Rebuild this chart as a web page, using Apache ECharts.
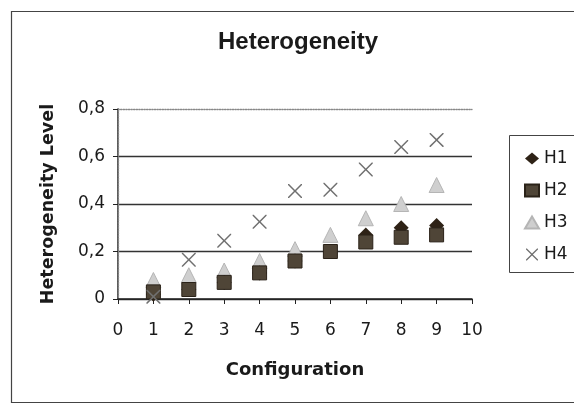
<!DOCTYPE html>
<html>
<head>
<meta charset="utf-8">
<style>html,body{margin:0;padding:0;background:#fff;}#c{width:574px;height:407px;}</style>
<script src="https://cdn.jsdelivr.net/npm/echarts@6/dist/echarts.min.js"></script>
</head>
<body>
<div id="c"></div>
<script>
var configurations = [1, 2, 3, 4, 5, 6, 7, 8, 9];
var h1 = [0.02, 0.04, 0.07, 0.11, 0.16, 0.20, 0.27, 0.30, 0.31];
var h2 = [0.03, 0.04, 0.07, 0.11, 0.16, 0.20, 0.24, 0.26, 0.27];
var h3 = [0.08, 0.10, 0.12, 0.16, 0.21, 0.27, 0.34, 0.40, 0.48];
var h4 = [0.01, 0.165, 0.245, 0.325, 0.455, 0.46, 0.545, 0.64, 0.67];
var seriesNames = ['H1', 'H2', 'H3', 'H4'];

function pairs(vals) { return configurations.map(function (c, i) { return [c, vals[i]]; }); }

var xPath = 'path://M0,0 L1.5,0 L10,8.5 L18.5,0 L20,0 L20,1.5 L11.5,10 L20,18.5 L20,20 L18.5,20 L10,11.5 L1.5,20 L0,20 L0,18.5 L8.5,10 L0,1.5 Z';

var chart = echarts.init(document.getElementById('c'), null, {renderer: 'canvas'});
var sans = 'DejaVu Sans, Verdana, sans-serif';
var arial = 'Liberation Sans, Arial, sans-serif';
chart.setOption({
  animation: false,
  backgroundColor: '#fff',
  textStyle: {fontFamily: sans},
  title: {
    text: 'Heterogeneity', left: 293, top: 25, textAlign: 'center',
    textStyle: {fontSize: 24, fontWeight: 'bold', color: '#1a1a1a', fontFamily: arial}
  },
  graphic: [
    {type: 'rect', shape: {x: 11.5, y: 11.5, width: 620, height: 391}, style: {fill: 'none', stroke: '#444', lineWidth: 1.2}, z: 0},
    {type: 'rect', shape: {x: 509.5, y: 135.5, width: 100, height: 137}, style: {fill: 'none', stroke: '#444', lineWidth: 1}, z: 0}
  ],
  legend: {
    orient: 'vertical', left: 519, top: 145, itemGap: 15, itemWidth: 14, itemHeight: 12,
    data: seriesNames,
    textStyle: {fontSize: 17, color: '#1a1a1a', fontFamily: sans}
  },
  grid: {left: 118, right: 102, top: 109, bottom: 108},
  xAxis: [{
    type: 'value', min: 0, max: 10, interval: 1,
    name: 'Configuration', nameLocation: 'middle', nameGap: 62,
    nameTextStyle: {fontSize: 18, fontWeight: 'bold', color: '#1a1a1a', fontFamily: sans},
    axisLine: {show: true, onZero: false, lineStyle: {color: '#222', width: 1.5}},
    axisTick: {show: true, inside: false, length: 5, lineStyle: {color: '#222'}},
    axisLabel: {fontSize: 17, color: '#1a1a1a', margin: 23, fontFamily: sans},
    splitLine: {show: false}
  }, {
    type: 'value', position: 'top', min: 0, max: 10, interval: 1,
    axisLine: {show: true, onZero: false, lineStyle: {color: '#888', width: 1.3, type: 'dotted'}},
    axisTick: {show: false}, axisLabel: {show: false}, splitLine: {show: false}
  }],
  yAxis: [{
    type: 'value', min: 0, max: 0.8, interval: 0.2,
    name: 'Heterogeneity Level', nameLocation: 'middle', nameGap: 61, nameRotate: 90,
    nameTextStyle: {fontSize: 17.5, fontWeight: 'bold', color: '#1a1a1a', fontFamily: sans},
    axisLine: {show: true, lineStyle: {color: '#222', width: 1.5}},
    axisTick: {show: true, inside: false, length: 5, lineStyle: {color: '#222'}},
    axisLabel: {fontSize: 17, color: '#1a1a1a', margin: 13, fontFamily: sans,
      formatter: function (v) { return v === 0 ? '0' : v.toFixed(1).replace('.', ','); }},
    splitLine: {show: true, lineStyle: {color: ['#333', '#333', '#333', '#333', 'rgba(0,0,0,0)'], width: 1.3}}
  }, {
    type: 'value', position: 'right', min: 0, max: 0.8, interval: 0.2,
    axisLine: {show: true, lineStyle: {color: '#888', width: 1.3, type: 'dotted'}},
    axisTick: {show: false}, axisLabel: {show: false}, splitLine: {show: false}
  }],
  series: [
    {name: 'H1', type: 'scatter', data: pairs(h1), symbol: 'diamond', symbolSize: 15, z: 3,
      itemStyle: {color: '#2e2216', opacity: 1}},
    {name: 'H2', type: 'scatter', data: pairs(h2), symbol: 'rect', symbolSize: 14, z: 4,
      itemStyle: {color: '#4f4537', borderColor: '#2a2218', borderWidth: 1, opacity: 1}},
    {name: 'H3', type: 'scatter', data: pairs(h3), symbol: 'triangle', symbolSize: 15, z: 2,
      itemStyle: {color: '#cfcfcf', borderColor: '#b5b5b5', borderWidth: 1, opacity: 1}},
    {name: 'H4', type: 'scatter', data: pairs(h4), symbol: xPath, symbolSize: 14, z: 5,
      itemStyle: {color: '#707070', opacity: 1}}
  ]
});
</script>
</body>
</html>
